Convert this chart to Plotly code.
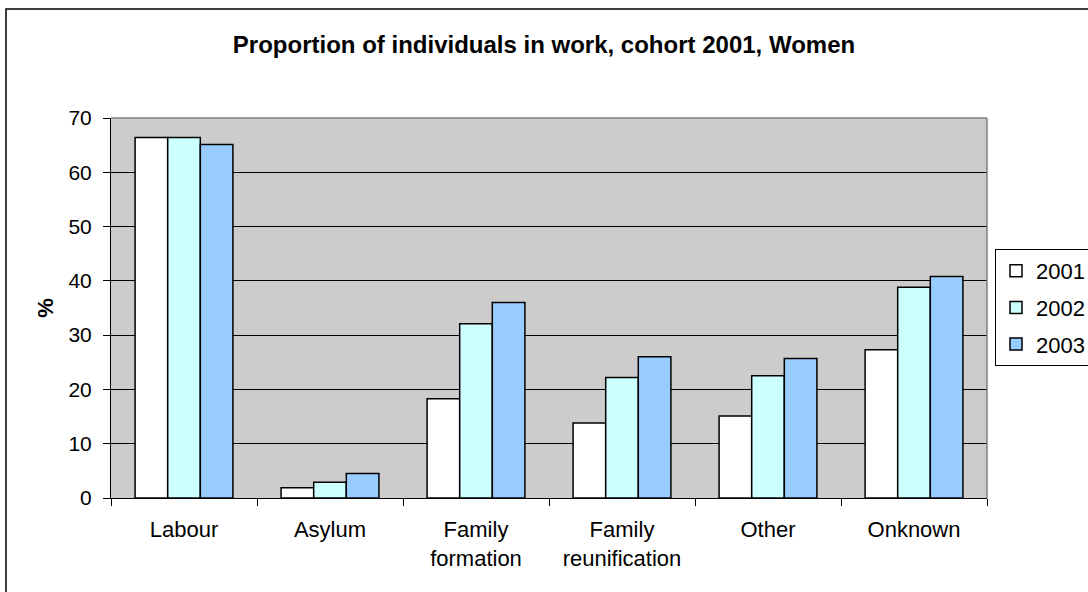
import plotly.graph_objects as go

categories = ["Labour", "Asylum", "Family<br>formation", "Family<br>reunification", "Other", "Onknown"]
years = ["2001", "2002", "2003"]
values_2001 = [66.4, 1.9, 18.3, 13.8, 15.1, 27.3]
values_2002 = [66.4, 2.9, 32.1, 22.2, 22.5, 38.8]
values_2003 = [65.1, 4.5, 36.0, 26.0, 25.7, 40.8]
series = [values_2001, values_2002, values_2003]
colors = ["#FFFFFF", "#CCFFFF", "#99CCFF"]

FONT = "Liberation Sans, Arial, sans-serif"

fig = go.Figure()
for name, vals, col in zip(years, series, colors):
    fig.add_trace(go.Bar(
        x=categories, y=vals, name=name, legendgroup=name,
        marker=dict(color=col, line=dict(color="#000000", width=1.5)),
    ))

W, H = 1088, 592
L, R, T, B = 111, 101, 118, 94
pw, ph = W - L - R, H - T - B

def px_x(x):
    return (x - L) / pw

def px_y(y):
    return (H - B - y) / ph

fig.update_layout(
    width=W, height=H,
    margin=dict(l=L, r=R, t=T, b=B, autoexpand=False),
    paper_bgcolor="#FFFFFF",
    plot_bgcolor="#CCCCCC",
    barmode="group",
    bargap=0.33,
    bargroupgap=0,
    font=dict(family=FONT, size=21, color="#000000"),
    title=dict(
        text="<b>Proportion of individuals in work, cohort 2001, Women</b>",
        x=0.5, xanchor="center", y=1 - 45 / H, yanchor="middle",
        font=dict(family=FONT, size=24, color="#000000"),
    ),
    legend=dict(
        x=px_x(995), y=px_y(249), xanchor="left", yanchor="top",
        bordercolor="#000000", borderwidth=1, bgcolor="#FFFFFF",
        font=dict(family=FONT, size=22),
        itemwidth=30, traceorder="grouped", tracegroupgap=5,
    ),
    showlegend=True,
    xaxis=dict(
        showline=True, linecolor="#000000", linewidth=1,
        ticks="outside", ticklen=7, tickcolor="#000000",
        tickson="boundaries", showgrid=False,
        tickfont=dict(size=22), ticklabelstandoff=12,
    ),
    yaxis=dict(
        range=[0, 70], dtick=10, showline=True, linecolor="#000000", linewidth=1,
        ticks="outside", ticklen=7, tickcolor="#000000",
        showgrid=True, gridcolor="#000000", gridwidth=1,
        zeroline=False, tickfont=dict(size=21), ticklabelstandoff=7,
        title=dict(text="<b>%</b>", font=dict(size=22), standoff=8),
    ),
)

# gray frame along the top and right edges of the plot area
fig.add_shape(type="line", xref="paper", yref="paper", x0=0, x1=1, y0=1, y1=1,
              line=dict(color="#808080", width=1.5))
fig.add_shape(type="line", xref="paper", yref="paper", x0=1, x1=1, y0=0, y1=1,
              line=dict(color="#808080", width=1.5))

# outer chart border
fig.add_shape(type="rect", xref="paper", yref="paper",
              x0=px_x(6), x1=px_x(1095), y0=px_y(600), y1=px_y(9),
              line=dict(color="#000000", width=1.5), fillcolor="rgba(0,0,0,0)", layer="below")

fig.write_html("out.html")
